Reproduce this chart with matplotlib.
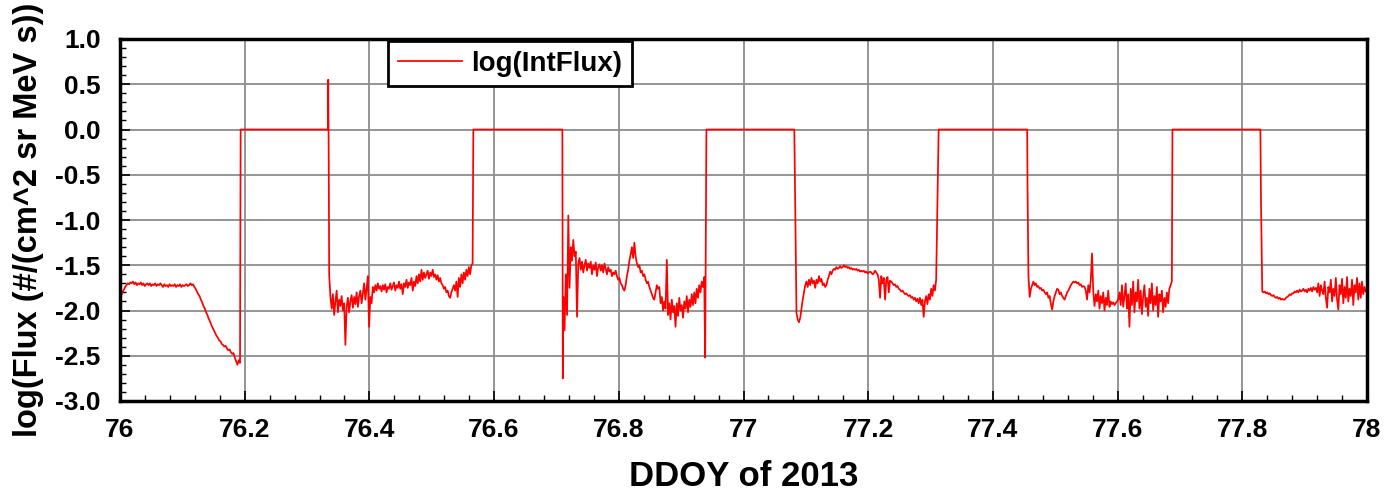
import numpy as np
import matplotlib
matplotlib.use("Agg")
import matplotlib.pyplot as plt
from matplotlib.ticker import FixedLocator, FixedFormatter, MultipleLocator

plt.rcParams['font.family'] = ['Liberation Sans', 'DejaVu Sans']
plt.rcParams['font.weight'] = 'bold'

# ---------------- data ----------------
SERIES_LABEL = "log(IntFlux)"
X_LABEL = "DDOY of 2013"
Y_LABEL = "log(Flux (#/(cm^2 sr MeV s))"

X_TICKS = [76.0, 76.2, 76.4, 76.6, 76.8, 77.0, 77.2, 77.4, 77.6, 77.8, 78.0]
X_TICK_LABELS = ["76", "76.2", "76.4", "76.6", "76.8", "77", "77.2", "77.4", "77.6", "77.8", "78"]
Y_TICKS = [1.0, 0.5, 0.0, -0.5, -1.0, -1.5, -2.0, -2.5, -3.0]
Y_TICK_LABELS = ["1.0", "0.5", "0.0", "-0.5", "-1.0", "-1.5", "-2.0", "-2.5", "-3.0"]

seg1 = [-1.83,-1.80,-1.77,-1.74,-1.72,-1.70,-1.71,-1.69,-1.70,-1.68,
        -1.71,-1.69,-1.72,-1.70,-1.71,-1.69,-1.72,-1.70,-1.73,-1.71,
        -1.70,-1.72,-1.70,-1.73,-1.71,-1.72,-1.70,-1.73,-1.71,-1.72,
        -1.70,-1.72,-1.74,-1.71,-1.73,-1.72,-1.74,-1.71,-1.73,-1.72,
        -1.73,-1.71,-1.74,-1.72,-1.73,-1.71,-1.74,-1.72,-1.73,-1.72,
        -1.71,-1.73,-1.72,-1.70,-1.72,-1.71,
        -1.74,-1.76,-1.79,-1.82,-1.84,-1.88,-1.91,-1.95,-1.98,-2.02,
        -2.05,-2.09,-2.12,-2.16,-2.19,-2.22,-2.25,-2.28,-2.30,-2.33,
        -2.34,-2.37,-2.38,-2.40,-2.39,-2.42,-2.44,-2.43,-2.46,-2.48,
        -2.47,-2.52,-2.56,-2.60,-2.55,-2.58]
gap1 = [0.0, 0.0]
spike1 = [0.55, -0.40]
seg2 = [-1.61,-1.85,-1.98,-1.82,-2.05,-1.90,-1.78,-2.02,-1.88,-1.95,
        -1.84,-2.00,-1.92,-2.38,-1.96,-1.86,-2.02,-1.90,-1.83,-1.97,
        -1.85,-1.93,-1.80,-1.96,-1.84,-1.78,-1.92,-1.81,-1.70,-1.88,
        -1.76,-1.62,-2.18,-1.85,-1.92,-1.74,-1.80,-1.72,-1.78,-1.70,
        -1.76,-1.73,-1.79,-1.72,-1.77,-1.71,-1.80,-1.74,-1.76,-1.70,
        -1.77,-1.73,-1.69,-1.78,-1.72,-1.75,-1.68,-1.76,-1.71,-1.82,
        -1.70,-1.74,-1.66,-1.75,-1.69,-1.72,-1.64,-1.78,-1.68,-1.73,
        -1.62,-1.70,-1.60,-1.68,-1.55,-1.66,-1.58,-1.64,-1.60,-1.56,
        -1.65,-1.58,-1.62,-1.55,-1.63,-1.60,-1.66,-1.61,-1.68,-1.64,
        -1.70,-1.72,-1.76,-1.74,-1.80,-1.78,-1.84,-1.86,-1.80,-1.76,
        -1.72,-1.78,-1.68,-1.85,-1.64,-1.74,-1.60,-1.70,-1.58,-1.66,
        -1.55,-1.62,-1.52,-1.60,-1.50,-1.48]
gap2 = [0.0, 0.0]
spike2 = [-2.75]
seg3 = [-1.85,-2.22,-1.60,-2.05,-0.95,-1.75,-1.30,-1.45,-1.22,-1.40,
        -1.35,-2.07,-1.48,-1.42,-1.55,-1.46,-1.58,-1.50,-1.44,-1.56,
        -1.48,-1.53,-1.46,-1.60,-1.50,-1.55,-1.47,-1.62,-1.52,-1.49,
        -1.56,-1.50,-1.58,-1.48,-1.54,-1.60,-1.52,-1.57,-1.55,-1.62,
        -1.58,-1.60,-1.56,-1.62,-1.66,-1.64,-1.70,-1.72,-1.76,-1.78,
        -1.72,-1.62,-1.55,-1.45,-1.38,-1.30,-1.42,-1.25,-1.40,-1.48,
        -1.52,-1.50,-1.58,-1.56,-1.62,-1.60,-1.66,-1.70,-1.68,-1.74,
        -1.78,-1.82,-1.86,-1.88,-1.80,-1.72,-1.76,-1.74,-1.92,-1.85,
        -2.00,-1.90,-1.98,-1.44,-2.05,-1.92,-2.10,-1.88,-2.02,-1.95,
        -2.18,-1.92,-2.06,-1.86,-2.00,-1.94,-2.08,-1.90,-1.98,-1.84,
        -2.02,-1.88,-1.96,-1.82,-1.94,-1.80,-1.92,-1.76,-1.86,-1.72,
        -1.80,-1.68,-1.74,-1.63]
spike3 = [-2.52]
gap3 = [0.0, 0.0]
seg4 = [-2.03,-2.10,-2.13,-2.08,-1.98,-1.88,-1.80,-1.72,-1.68,-1.74,
        -1.66,-1.72,-1.64,-1.70,-1.67,-1.75,-1.66,-1.70,-1.62,-1.68,
        -1.65,-1.72,-1.70,-1.74,-1.72,-1.66,-1.62,-1.57,-1.60,-1.56,
        -1.54,-1.55,-1.52,-1.54,-1.53,-1.51,-1.53,-1.52,-1.50,-1.52,
        -1.51,-1.53,-1.52,-1.54,-1.53,-1.55,-1.54,-1.55,-1.54,-1.56,
        -1.55,-1.57,-1.56,-1.57,-1.56,-1.58,-1.57,-1.59,-1.58,-1.57,
        -1.58,-1.60,-1.59,-1.56,-1.58,-1.60,-1.66,-1.86,-1.62,-1.70,
        -1.64,-1.88,-1.66,-1.63,-1.80,-1.67,-1.68,-1.70,-1.72,-1.71,
        -1.74,-1.73,-1.76,-1.77,-1.79,-1.78,-1.80,-1.82,-1.81,-1.83,
        -1.84,-1.83,-1.86,-1.85,-1.88,-1.86,-1.90,-1.87,-1.92,-1.86,
        -1.94,-1.88,-2.07,-1.90,-1.84,-1.93,-1.82,-1.88,-1.76,-1.84,
        -1.72,-1.78,-1.66]
gap4 = [0.0, 0.0]
spike4 = [-0.60]
seg5 = [-1.62,-1.85,-1.76,-1.72,-1.68,-1.72,-1.70,-1.74,-1.73,-1.76,
        -1.75,-1.78,-1.77,-1.80,-1.82,-1.80,-1.86,-1.84,-1.93,-1.99,
        -1.90,-1.84,-1.80,-1.76,-1.77,-1.82,-1.80,-1.84,-1.86,-1.88,
        -1.84,-1.80,-1.78,-1.75,-1.72,-1.70,-1.68,-1.69,-1.68,-1.70,
        -1.69,-1.72,-1.71,-1.74,-1.73,-1.74,-1.78,-1.88,-1.72,-1.80,
        -1.66,-1.37,-1.80,-1.95,-1.82,-1.90,-1.78,-1.98,-1.84,-1.92,
        -1.80,-2.00,-1.86,-1.94,-1.78,-1.96,-1.90,-1.93,-1.91,-1.94,
        -1.92,-1.90,-1.88,-1.80,-1.94,-1.72,-1.96,-1.84,-1.70,-1.98,
        -1.82,-2.18,-1.76,-1.94,-1.68,-2.02,-1.80,-1.90,-1.66,-1.98,
        -1.78,-2.04,-1.84,-1.72,-1.96,-1.86,-2.06,-1.76,-1.92,-1.70,
        -2.00,-1.84,-1.94,-1.74,-2.07,-1.82,-1.90,-1.78,-2.02,-1.86,
        -1.96,-1.80,-1.92,-1.76,-1.72,-1.68]
gap5 = [0.0, 0.0]
spike5 = [-0.80]
seg6 = [-1.79,-1.80,-1.79,-1.81,-1.80,-1.82,-1.81,-1.83,-1.84,-1.83,
        -1.85,-1.86,-1.85,-1.87,-1.86,-1.88,-1.87,-1.88,-1.88,-1.86,
        -1.85,-1.84,-1.82,-1.83,-1.81,-1.81,-1.79,-1.80,-1.78,-1.80,
        -1.77,-1.79,-1.78,-1.76,-1.79,-1.77,-1.80,-1.76,-1.78,-1.75,
        -1.79,-1.74,-1.77,-1.75,-1.80,-1.70,-1.84,-1.72,-1.78,-1.82,
        -1.68,-1.86,-1.97,-1.74,-1.80,-1.66,-1.90,-1.76,-1.84,-1.64,
        -1.88,-1.99,-1.72,-1.82,-1.65,-1.92,-1.74,-1.86,-1.63,-1.90,
        -1.76,-1.84,-1.66,-1.94,-1.72,-1.80,-1.64,-1.88,-1.70,-1.86,
        -1.68,-1.82,-1.74,-1.79]

# each segment: start time, end time, values sampled evenly in between
SEG_START = [76.002, 76.1935, 76.3340, 76.3355, 76.5667, 76.7102, 76.7110, 76.9385,
             76.9405, 77.0850, 77.3130, 77.4555, 77.4570, 77.6880, 77.8300, 77.8320]
SEG_END = [76.1925, 76.3335, 76.3348, 76.5655, 76.7095, 76.7102, 76.9370, 76.9385,
           77.0815, 77.3090, 77.4550, 77.4555, 77.6870, 77.8290, 77.8300, 77.9980]
SEG_VALUES = [seg1, gap1, spike1, seg2, gap2, spike2, seg3, spike3,
              gap3, seg4, gap4, spike4, seg5, gap5, spike5, seg6]

# ---------------- assemble series ----------------
xs, ys = [], []
for s, e, v in zip(SEG_START, SEG_END, SEG_VALUES):
    xs.append(np.linspace(s, e, len(v)) if len(v) > 1 else np.array([s]))
    ys.append(np.asarray(v, dtype=float))
x = np.concatenate(xs)
y = np.concatenate(ys)

# ---------------- figure ----------------
W, H = 1387, 493
fig = plt.figure(figsize=(W / 100, H / 100), dpi=100)
L, R, T, B = 120, 1367, 39, 401
ax = fig.add_axes([L / W, 1 - B / H, (R - L) / W, (B - T) / H])

ax.plot(x, y, color='#ff0000', lw=1.25, label=SERIES_LABEL, zorder=3)

ax.set_xlim(76, 78)
ax.set_ylim(-3, 1)

ax.xaxis.set_major_locator(FixedLocator(X_TICKS))
ax.xaxis.set_major_formatter(FixedFormatter(X_TICK_LABELS))
ax.yaxis.set_major_locator(FixedLocator(Y_TICKS))
ax.yaxis.set_major_formatter(FixedFormatter(Y_TICK_LABELS))
ax.xaxis.set_minor_locator(MultipleLocator(0.04))
ax.yaxis.set_minor_locator(MultipleLocator(0.1))

ax.grid(True, which='major', color='#8c8c8c', lw=1.3, zorder=0)
ax.tick_params(axis='both', which='major', direction='in', length=7, width=1.2,
               labelsize=19, top=False, right=False)
ax.tick_params(axis='both', which='minor', direction='in', length=4, width=1.0,
               top=False, right=False)
ax.tick_params(axis='y', which='major', pad=14)
ax.tick_params(axis='x', which='major', pad=12)
for lab in ax.get_xticklabels() + ax.get_yticklabels():
    lab.set_fontweight('bold')

for sp in ax.spines.values():
    sp.set_linewidth(2.5)
    sp.set_color('black')
    sp.set_zorder(5)

ax.set_xlabel(X_LABEL, fontsize=25, fontweight='bold', labelpad=13)
ax.set_ylabel(Y_LABEL, fontsize=23.5, fontweight='bold', labelpad=8)

leg = ax.legend(loc='upper left', bbox_to_anchor=((388 - L) / (R - L), 1 - 2 / (B - T)),
                fontsize=20, frameon=True, fancybox=False, shadow=False,
                framealpha=1, edgecolor='black', borderpad=0.35,
                handlelength=2.3, handletextpad=0.35, borderaxespad=0)
leg.get_frame().set_linewidth(2.0)
for t in leg.get_texts():
    t.set_fontweight('bold')

fig.savefig('out.png', dpi=100)
